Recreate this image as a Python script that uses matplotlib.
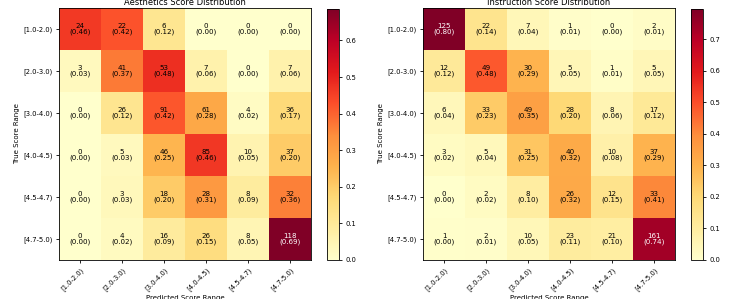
import numpy as np
import matplotlib
matplotlib.use('Agg')
import matplotlib.pyplot as plt

ranges = ['[1.0-2.0)', '[2.0-3.0)', '[3.0-4.0)', '[4.0-4.5)', '[4.5-4.7)', '[4.7-5.0)']

aesthetics_counts = [
    [24, 22, 6, 0, 0, 0],
    [3, 41, 53, 7, 0, 7],
    [0, 26, 91, 61, 4, 36],
    [0, 5, 46, 85, 10, 37],
    [0, 3, 18, 28, 8, 32],
    [0, 4, 16, 26, 8, 118],
]

instruction_counts = [
    [125, 22, 7, 1, 0, 2],
    [12, 49, 30, 5, 1, 5],
    [6, 33, 49, 28, 8, 17],
    [3, 5, 31, 40, 10, 37],
    [0, 2, 8, 26, 12, 33],
    [1, 2, 10, 23, 21, 161],
]

titles = ['Aesthetics Score Distribution', 'Instruction Score Distribution']

W, H = 747, 299
fig = plt.figure(figsize=(W / 100, H / 100), dpi=100)

def px(x0, y0, w, h):
    # pixel box (from top-left) -> figure fraction
    return [x0 / W, (H - y0 - h) / H, w / W, h / H]

boxes = [(59, 327), (423, 691)]

for (ax_x, cb_x), counts, title in zip(boxes, [aesthetics_counts, instruction_counts], titles):
    cm = np.array(counts, dtype=float)
    norm = cm / cm.sum(axis=1, keepdims=True)
    ax = fig.add_axes(px(ax_x, 8, 252, 252))
    cax = fig.add_axes(px(cb_x, 9, 12, 251))
    im = ax.imshow(norm, cmap='YlOrRd', vmin=0, vmax=norm.max(), aspect='auto')
    cb = fig.colorbar(im, cax=cax)
    cb.ax.tick_params(labelsize=4.9, length=2.5, width=0.6, pad=2)
    cb.outline.set_linewidth(0.6)
    for i in range(cm.shape[0]):
        for j in range(cm.shape[1]):
            color = 'white' if norm[i, j] > 0.5 else 'black'
            ax.text(j, i, f'{int(cm[i, j])}\n({norm[i, j]:.2f})', ha='center', va='center',
                    color=color, fontsize=5.1, linespacing=1.0)
    ax.set_xticks(range(len(ranges)))
    ax.set_yticks(range(len(ranges)))
    ax.set_xticklabels(ranges, rotation=45, ha='right', rotation_mode='anchor')
    ax.set_yticklabels(ranges)
    ax.tick_params(labelsize=4.85, length=2.5, width=0.6, pad=2)
    for s in ax.spines.values():
        s.set_linewidth(0.6)
    ax.set_title(title, fontsize=6.0, pad=2)
    ax.set_xlabel('Predicted Score Range', fontsize=5.05, labelpad=2)
    ax.set_ylabel('True Score Range', fontsize=5.05, labelpad=2)

fig.savefig('out.png', dpi=100)
